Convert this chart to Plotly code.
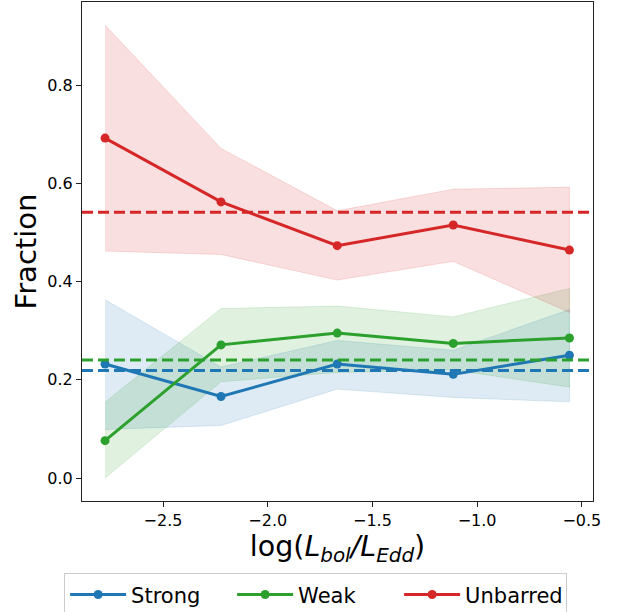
import plotly.graph_objects as go

# Eddington-ratio bins (log L_bol / L_Edd)
log_edd = [-2.777, -2.223, -1.668, -1.114, -0.559]

# Fraction per bin, with lower/upper bounds of the uncertainty band
strong = [0.232, 0.166, 0.232, 0.211, 0.250]
strong_lo = [0.099, 0.107, 0.181, 0.164, 0.155]
strong_hi = [0.363, 0.226, 0.280, 0.260, 0.343]

weak = [0.076, 0.271, 0.295, 0.274, 0.285]
weak_lo = [0.000, 0.196, 0.215, 0.220, 0.185]
weak_hi = [0.154, 0.345, 0.350, 0.328, 0.386]

unbarred = [0.692, 0.562, 0.473, 0.515, 0.464]
unbarred_lo = [0.462, 0.455, 0.403, 0.441, 0.337]
unbarred_hi = [0.922, 0.671, 0.544, 0.588, 0.592]

# Fractions over the full sample (dashed reference lines)
overall = {"Strong": 0.219, "Weak": 0.240, "Unbarred": 0.541}

series = [
    ("Strong", strong, strong_lo, strong_hi, "#1f77b4", "rgba(31,119,180,0.15)"),
    ("Weak", weak, weak_lo, weak_hi, "#2ca02c", "rgba(44,160,44,0.15)"),
    ("Unbarred", unbarred, unbarred_lo, unbarred_hi, "#d62728", "rgba(214,39,40,0.15)"),
]

fig = go.Figure()

for name, vals, lo, hi, color, fill in series:
    fig.add_trace(go.Scatter(
        x=log_edd + log_edd[::-1], y=hi + lo[::-1],
        fill="toself", fillcolor=fill, mode="lines",
        line=dict(color=fill, width=1), hoverinfo="skip", showlegend=False,
    ))

for name, vals, lo, hi, color, fill in series:
    fig.add_trace(go.Scatter(
        x=log_edd, y=vals, mode="lines+markers", name=name,
        line=dict(color=color, width=3), marker=dict(color=color, size=9),
    ))
    fig.add_shape(type="line", xref="x domain", yref="y",
                  x0=0, x1=1, y0=overall[name], y1=overall[name],
                  line=dict(color=color, width=3, dash="11px,5px"))

axis_common = dict(
    showline=True, mirror=True, linecolor="#222", linewidth=1.2,
    ticks="outside", ticklen=5, tickcolor="#222", showgrid=False, zeroline=False,
    tickfont=dict(family="DejaVu Sans", size=16, color="black"),
)

fig.update_xaxes(
    range=[-2.887, -0.4465], tickvals=[-2.5, -2.0, -1.5, -1.0, -0.5],
    ticktext=["\u22122.5", "\u22122.0", "\u22121.5", "\u22121.0", "\u22120.5"],
    title=dict(text="log(<i>L<sub>bol</sub>/L<sub>Edd</sub></i>)",
               font=dict(family="DejaVu Sans", size=28.5, color="black"), standoff=4),
    **axis_common,
)
fig.update_yaxes(
    range=[-0.0468, 0.969], tickvals=[0.0, 0.2, 0.4, 0.6, 0.8],
    ticktext=["0.0", "0.2", "0.4", "0.6", "0.8"],
    title=dict(text="Fraction",
               font=dict(family="DejaVu Sans", size=29, color="black"), standoff=2),
    **axis_common,
)

fig.update_layout(
    width=617, height=612,
    margin=dict(l=82, r=24, t=2, b=111, autoexpand=False),
    plot_bgcolor="white", paper_bgcolor="white",
    legend=dict(
        orientation="h", x=-0.035, xanchor="left", y=-0.145, yanchor="top",
        font=dict(family="DejaVu Sans", size=21, color="black"),
        bordercolor="#cccccc", borderwidth=1, bgcolor="white",
        itemwidth=56, entrywidth=96,
    ),
)

fig.write_html("out.html")
